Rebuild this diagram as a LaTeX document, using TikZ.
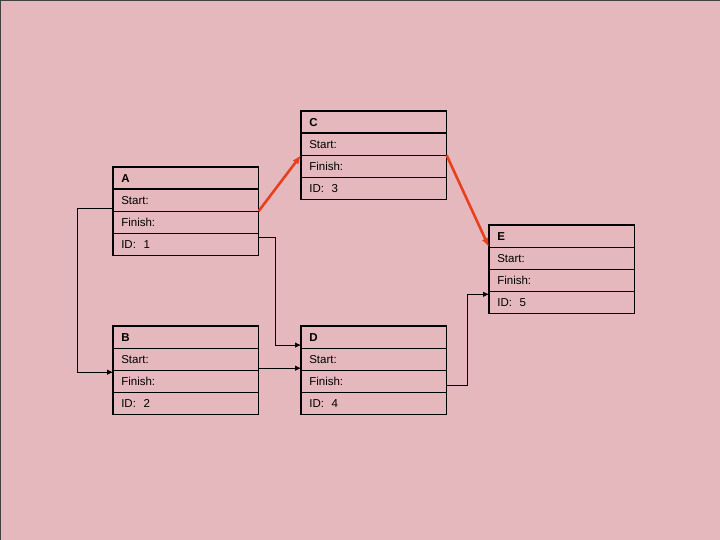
\documentclass[tikz,border=0pt]{standalone}
\usepackage{fontspec}
\setmainfont{Liberation Sans}
\usetikzlibrary{positioning,arrows.meta,calc}
\definecolor{slidepink}{RGB}{229,184,189}
\definecolor{pathred}{RGB}{232,64,28}
\tikzstyle{row} = [draw, line width=0.6pt, rectangle, minimum height=21.5pt, minimum width=145pt, text width=129pt, inner xsep=8pt, inner ysep=2pt, align=left, font=\fontsize{11.5}{13}\selectfont]
\tikzstyle{head} = [row, font=\fontsize{11.5}{13}\selectfont\bfseries]
\tikzstyle{frame} = [draw, line width=1.6pt]
\tikzstyle{link} = [-{Latex[length=6pt,width=5.5pt]}, line width=0.8pt]
\tikzstyle{critical} = [-{Latex[length=9pt,width=7pt]}, line width=2.6pt, color=pathred]

\begin{document}
\begin{tikzpicture}[x=1pt, y=-1pt, node distance=0pt]
    % Slide
    \useasboundingbox (0,0) rectangle (720,540);
    \fill[slidepink] (0,0) rectangle (720,540);
    \draw[line width=2pt, black!75] (0,540) -- (0,0) -- (720,0);

    % Activity A
    \node [head, anchor=north west] (A) at (113,167) {A};
    \node [row, below=of A] (A-s) {Start:};
    \node [row, below=of A-s] (A-f) {Finish:};
    \node [row, below=of A-f] (A-id) {ID:~ 1};
    \draw [frame] (A.north west) rectangle (A-id.south east);

    % Activity B
    \node [head, anchor=north west] (B) at (113,326) {B};
    \node [row, below=of B] (B-s) {Start:};
    \node [row, below=of B-s] (B-f) {Finish:};
    \node [row, below=of B-f] (B-id) {ID:~ 2};
    \draw [frame] (B.north west) rectangle (B-id.south east);

    % Activity C
    \node [head, anchor=north west] (C) at (301,111) {C};
    \node [row, below=of C] (C-s) {Start:};
    \node [row, below=of C-s] (C-f) {Finish:};
    \node [row, below=of C-f] (C-id) {ID:~ 3};
    \draw [frame] (C.north west) rectangle (C-id.south east);

    % Activity D
    \node [head, anchor=north west] (D) at (301,326) {D};
    \node [row, below=of D] (D-s) {Start:};
    \node [row, below=of D-s] (D-f) {Finish:};
    \node [row, below=of D-f] (D-id) {ID:~ 4};
    \draw [frame] (D.north west) rectangle (D-id.south east);

    % Activity E
    \node [head, anchor=north west] (E) at (489,225) {E};
    \node [row, below=of E] (E-s) {Start:};
    \node [row, below=of E-s] (E-f) {Finish:};
    \node [row, below=of E-f] (E-id) {ID:~ 5};
    \draw [frame] (E.north west) rectangle (E-id.south east);

    % Connections
    \draw [link] ($(A-s.south west)+(0,-3)$) -- ++(-36,0) |- ($(B-s.south west)+(0,2)$);
    \draw [link] ($(A-id.north east)+(0,4)$) -- ++(17,0) |- ($(D.south west)+(0,-3)$);
    \draw [link] ($(B-s.south east)+(0,-2)$) -- ($(D-s.south west)+(0,-2)$);
    \draw [link] ($(D-f.south east)+(0,-7)$) -- ++(21,0) |- ($(E-id.north west)+(0,3)$);

    % Critical path
    \draw [critical] (A-s.south east) -- (C-s.south west);
    \draw [critical] (C-s.south east) -- (E.south west);
\end{tikzpicture}
\end{document}
